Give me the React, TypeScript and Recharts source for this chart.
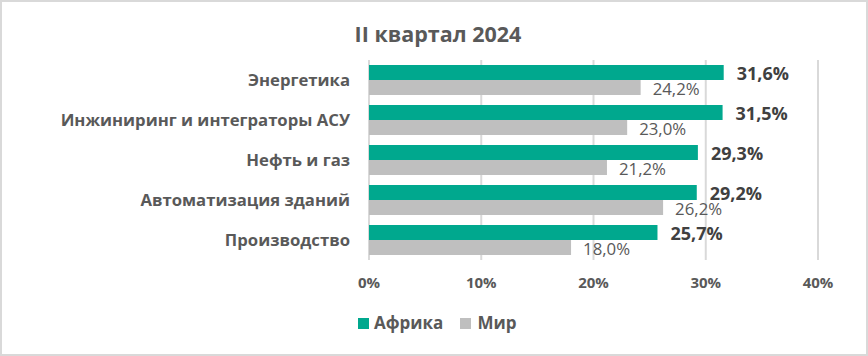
import React from 'react';
import { BarChart, Bar, XAxis, YAxis, CartesianGrid, LabelList } from 'recharts';

const categories = [
  'Энергетика',
  'Инжиниринг и интеграторы АСУ',
  'Нефть и газ',
  'Автоматизация зданий',
  'Производство',
];
const africa = [31.6, 31.5, 29.3, 29.2, 25.7];
const world = [24.2, 23.0, 21.2, 26.2, 18.0];
const xTicks = [0, 10, 20, 30, 40];

const data = categories.map((name, i) => ({ name, africa: africa[i], world: world[i] }));

const FONT = '"Open Sans", sans-serif';
const GREEN = '#00A88E';
const GREY = '#BFBFBF';
const TEXT = '#595959';

const fmt = (v: number) => v.toFixed(1).replace('.', ',') + '%';

const AfricaLabel = (props: any) => {
  const { x, y, width, height, value } = props;
  return (
    <text x={x + width + 13} y={y + height / 2} dominantBaseline="central"
      fill="#404040" fontFamily={FONT} fontWeight={700} fontSize={18}>
      {fmt(value)}
    </text>
  );
};

const WorldLabel = (props: any) => {
  const { x, y, width, height, value } = props;
  return (
    <text x={x + width + 12} y={y + height / 2 + 1} dominantBaseline="central"
      fill={TEXT} fontFamily={FONT} fontSize={16.8}>
      {fmt(value)}
    </text>
  );
};

const App: React.FC = () => {
  return (
    <div style={{ position: 'fixed', left: 0, top: 0, width: 868, height: 356, background: '#fff', fontFamily: FONT }}>
      <div style={{
        position: 'absolute', left: 4, top: 20, width: 868, textAlign: 'center',
        fontSize: 21.5, fontWeight: 700, color: TEXT, lineHeight: '28px',
      }}>
        II квартал 2024
      </div>
      <BarChart
        width={868}
        height={356}
        data={data}
        layout="vertical"
        margin={{ top: 60, right: 50, left: 0, bottom: 66 }}
        barGap={0}
        barSize={15}
      >
        <CartesianGrid horizontal={false} stroke="#D9D9D9" strokeWidth={2} />
        <XAxis
          type="number"
          domain={[0, 40]}
          ticks={xTicks}
          tickFormatter={(v: number) => `${v}%`}
          axisLine={false}
          tickLine={false}
          tickSize={0}
          tickMargin={17}
          height={30}
          tick={{ fill: TEXT, fontSize: 15, fontWeight: 700, fontFamily: FONT }}
        />
        <YAxis
          type="category"
          dataKey="name"
          width={369}
          axisLine={false}
          tickLine={false}
          tickSize={0}
          tickMargin={19}
          interval={0}
          tick={{ fill: TEXT, fontSize: 16.7, fontWeight: 700, fontFamily: FONT }}
        />
        <Bar dataKey="africa" fill={GREEN} isAnimationActive={false}>
          <LabelList dataKey="africa" content={AfricaLabel} />
        </Bar>
        <Bar dataKey="world" fill={GREY} isAnimationActive={false}>
          <LabelList dataKey="world" content={WorldLabel} />
        </Bar>
      </BarChart>
      <div style={{
        position: 'absolute', left: 358, top: 311, display: 'flex', alignItems: 'center',
        fontSize: 17, fontWeight: 700, color: TEXT, lineHeight: '24px',
      }}>
        <span style={{ width: 11, height: 11, background: GREEN, display: 'inline-block', marginRight: 5 }} />
        <span>Африка</span>
        <span style={{ width: 11, height: 11, background: GREY, display: 'inline-block', marginLeft: 17, marginRight: 6 }} />
        <span>Мир</span>
      </div>
      <div style={{
        position: 'absolute', left: 0, top: 0, width: 868, height: 356, boxSizing: 'border-box',
        border: '2px solid #D9D9D9', pointerEvents: 'none',
      }} />
    </div>
  );
};

export default App;
